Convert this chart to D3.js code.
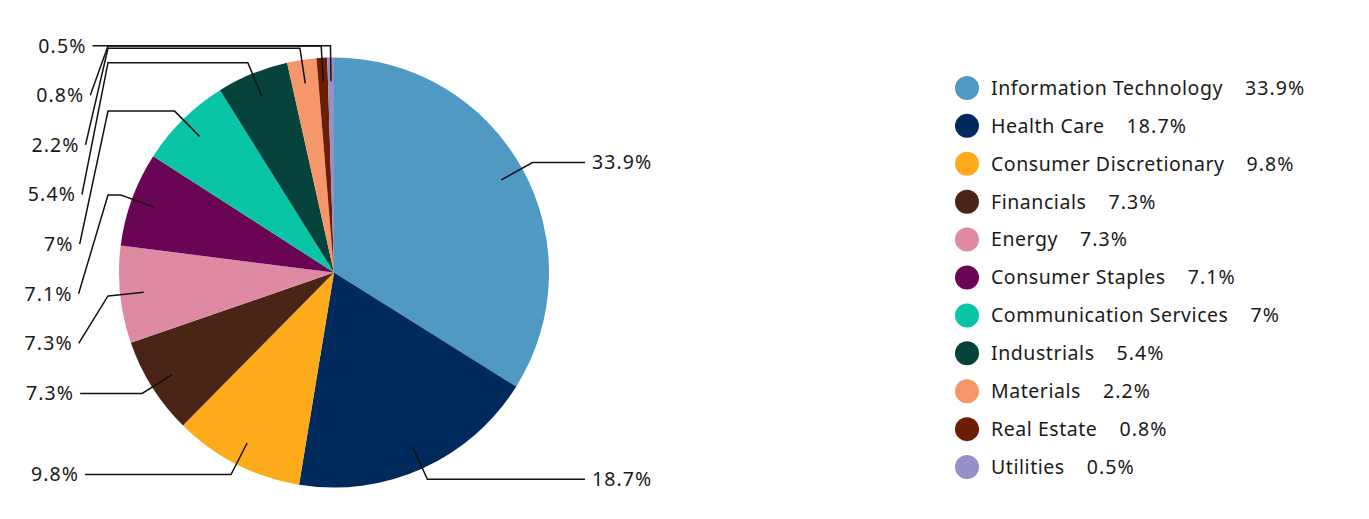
<!DOCTYPE html>
<html>
<head>
<meta charset="utf-8">
<script src="https://cdn.jsdelivr.net/npm/d3@7"></script>
<style>
  body { margin: 0; background: #fff; }
  text { font-family: "Noto Sans", sans-serif; fill: #1a1a1a; }
</style>
</head>
<body>
<div id="chart"></div>
<script>
const w = 1369;
const h = 519;

const sectors = ["Information Technology", "Health Care", "Consumer Discretionary", "Financials", "Energy",
                 "Consumer Staples", "Communication Services", "Industrials", "Materials", "Real Estate", "Utilities"];
const weights = [33.9, 18.7, 9.8, 7.3, 7.3, 7.1, 7, 5.4, 2.2, 0.8, 0.5];
const colors = ["#4f99c3", "#002a5c", "#fdab1b", "#4a2516", "#de8aa3", "#6a0455",
                "#0ac4a6", "#06433d", "#f6976b", "#6c1d02", "#9590c8"];

const cx = 334, cy = 272.5, R = 215;
const labelGap = 49.6;

const svg = d3.select("#chart")
    .append("svg")
    .attr("width", w)
    .attr("height", h);

let data = sectors.map((s, i) => ({ name: s, value: weights[i], color: colors[i] }));

let pie = d3.pie().sort(null).value(d => d.value);
let arcs = pie(data);

let arc = d3.arc().innerRadius(0).outerRadius(R);

const g = svg.append("g").attr("transform", "translate(" + cx + "," + cy + ")");

g.selectAll("path.slice")
    .data(arcs)
    .enter()
    .append("path")
    .attr("class", "slice")
    .attr("d", arc)
    .attr("fill", d => d.data.color);

// label layout
function pt(a, r) {
    return [Math.sin(a) * r, -Math.cos(a) * r];
}

let labels = arcs.map(d => {
    let mid = (d.startAngle + d.endAngle) / 2;
    return {
        d: d,
        mid: mid,
        inner: pt(mid, R * 0.89),
        elbow: pt(mid, R * 1.055),
        side: mid < Math.PI ? "right" : "left"
    };
});

labels.forEach(l => l.y = l.elbow[1]);

// push left labels downward so they don't overlap
let left = labels.filter(l => l.side == "left").sort((a, b) => a.elbow[1] - b.elbow[1]);
for (let i = 1; i < left.length; i++) {
    if (left[i].y < left[i - 1].y + labelGap) left[i].y = left[i - 1].y + labelGap;
}

const rightX = 251, bendX = 108 - cx;
// left labels sit on a gentle arc
function leftX(y) {
    let dy = y - 40;
    return -255.5 + Math.min(14, dy * dy / 4000);
}

labels.forEach(l => {
    let pts = [l.inner, l.elbow];
    if (l.side == "right") {
        l.x = rightX;
        pts.push([rightX, l.y]);
    } else {
        l.x = leftX(l.y);
        if (Math.abs(l.y - l.elbow[1]) < 1) {
            pts.push([l.x, l.y]);
        } else {
            pts.push([Math.min(bendX, l.elbow[0]), l.elbow[1]]);
            pts.push([l.x, l.y]);
        }
    }
    l.pts = pts;
});

g.selectAll("path.leader")
    .data(labels)
    .enter()
    .append("path")
    .attr("class", "leader")
    .attr("d", l => d3.line()(l.pts))
    .attr("fill", "none")
    .attr("stroke", "#111")
    .attr("stroke-width", 1.5);

g.selectAll("text.lbl")
    .data(labels)
    .enter()
    .append("text")
    .attr("class", "lbl")
    .attr("x", l => l.side == "right" ? l.x + 7 : l.x - 6)
    .attr("y", l => l.y)
    .attr("dy", "0.35em")
    .attr("text-anchor", l => l.side == "right" ? "start" : "end")
    .style("font-size", "19.5px")
    .style("letter-spacing", "1.1px")
    .text(l => l.d.data.value + "%");

// legend
const legendY = d3.scaleBand()
    .domain(sectors)
    .range([69, 486]);

const legend = svg.append("g").attr("transform", "translate(967, 0)");

let items = legend.selectAll("g")
    .data(data)
    .enter()
    .append("g")
    .attr("transform", d => "translate(0," + (legendY(d.name) + legendY.bandwidth() / 2) + ")");

items.append("circle")
    .attr("r", 12)
    .attr("fill", d => d.color);

let t = items.append("text")
    .attr("x", 24)
    .attr("dy", "0.35em")
    .style("font-size", "19.5px");

t.append("tspan").style("letter-spacing", "0.55px").text(d => d.name);
t.append("tspan").attr("dx", 22).style("letter-spacing", "1.1px").text(d => d.value + "%");
</script>
</body>
</html>
